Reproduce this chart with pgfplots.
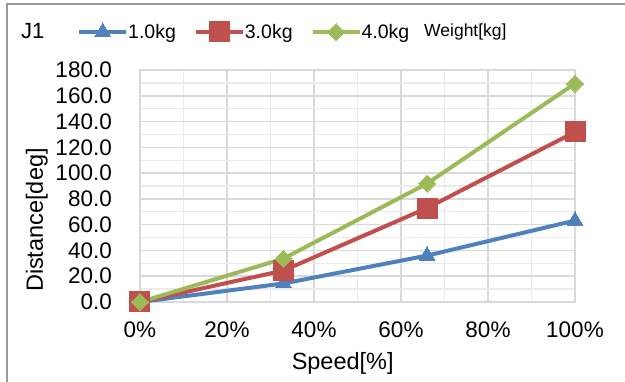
\documentclass[border=0pt]{standalone}
\usepackage{pgfplots}
\pgfplotsset{compat=1.18}
\usepackage{fontspec}
\setmainfont{Liberation Sans}
\definecolor{c1}{HTML}{4F81BD}
\definecolor{c2}{HTML}{C0504D}
\definecolor{c3}{HTML}{9BBB59}
\definecolor{gmaj}{HTML}{D9D9D9}
\definecolor{gmin}{HTML}{EBEBEB}
\begin{document}
\begin{tikzpicture}[x=1pt,y=1pt]
\useasboundingbox (0,0) rectangle (625,381);
\draw[color=black!40, line width=1.5pt] (7,-2) -- (7,377) -- (630,377);
\begin{axis}[
 at={(140pt,79pt)}, anchor=south west,
 scale only axis, width=435pt, height=232pt,
 xmin=0,xmax=100,ymin=0,ymax=180,
 xtick={0,20,...,100}, ytick={0,20,...,180},
 minor x tick num=1, minor y tick num=1,
 grid=both,
 major grid style={gmaj, line width=1.6pt},
 minor grid style={gmin, line width=1.3pt},
 axis line style={gmaj, line width=1.6pt},
 major tick length=0pt, minor tick length=0pt,
 clip=false,
 /pgf/number format/assume math mode=true,
 yticklabel style={/pgf/number format/.cd, fixed, fixed zerofill, precision=1, /tikz/.cd,
   font=\fontsize{22.5}{26}\selectfont, anchor=east, inner sep=0pt, xshift=-28pt},
 xticklabel={\pgfmathprintnumber{\tick}\%},
 xticklabel style={font=\fontsize{22.5}{26}\selectfont, anchor=north, inner sep=0pt, yshift=-20pt},
 xlabel={Speed[\%]},
 xlabel style={font=\fontsize{23.5}{27}\selectfont, at={(axis description cs:0.466,-0.263)}, anchor=center, inner sep=0pt},
 ylabel={Distance[deg]},
 ylabel style={font=\fontsize{23.5}{27}\selectfont, at={(axis description cs:-0.237,0.353)}, anchor=center, rotate=0, inner sep=0pt},
 legend columns=-1,
 legend style={at={(axis description cs:-0.1448,1.164)}, anchor=west, draw=none, fill=none, inner sep=0pt,
   font=\fontsize{19.5}{22}\selectfont, nodes={inner sep=0pt},
   /tikz/every odd column/.append style={column sep=0pt},
   /tikz/every even column/.append style={column sep=18pt}},
 legend image code/.code={\draw[mark repeat=2,mark phase=2] plot coordinates {(0pt,0pt) (23.5pt,0pt) (47pt,0pt)};},
]
\addplot[c1, line width=4pt, line join=round, mark=triangle*, mark size=9, mark options={solid, line width=0pt}] coordinates {(0,0) (33,14.4) (66,36) (100,63.2)};
\addlegendentry{1.0kg}
\addplot[c2, line width=4pt, line join=round, mark=square*, mark size=10, mark options={solid, line width=0pt}] coordinates {(0,0) (33,24.4) (66,72.9) (100,131.9)};
\addlegendentry{3.0kg}
\addplot[c3, line width=4pt, line join=round, mark=square*, mark size=6, mark options={solid, rotate=45, line width=0pt}] coordinates {(0,0) (33,33.7) (66,91.9) (100,169.5)};
\addlegendentry{4.0kg}
\end{axis}
\node[anchor=west, font=\fontsize{22}{25}\selectfont, inner sep=0pt] at (21,350) {J1};
\node[anchor=west, font=\fontsize{17.5}{21}\selectfont, inner sep=0pt] at (424,349) {Weight[kg]};
\end{tikzpicture}
\end{document}
